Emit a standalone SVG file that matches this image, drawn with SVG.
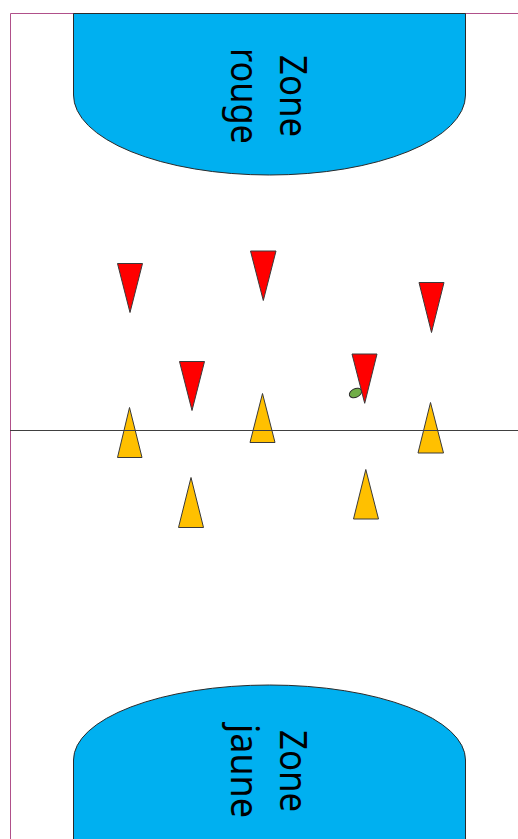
<svg xmlns="http://www.w3.org/2000/svg" width="518" height="839" viewBox="0 0 518 839">
<style>
.zone{fill:#00b0f0;stroke:#2a2a2a;stroke-width:1}
.lbl{font-family:"Noto Sans","Open Sans",sans-serif;font-size:39px;fill:#000;text-anchor:middle}
.red{fill:#ff0000;stroke:#3a3a3a;stroke-width:1}
.yel{fill:#ffc000;stroke:#3a3a3a;stroke-width:1}
.border{fill:none;stroke:#b0508a;stroke-width:1}
</style>
<rect width="518" height="839" fill="#ffffff"/>
<g id="border">
<path class="border" d="M10.5,839 V13.5 H518"/>
</g>
<g id="zone-rouge">
<path class="zone" d="M73.5,13.5 V95 A196,80 0 0 0 465.5,95 V13.5 Z"/>
<g transform="translate(255,96) rotate(90)">
<text class="lbl" x="0" y="-25" textLength="82" lengthAdjust="spacingAndGlyphs">Zone</text>
<text class="lbl" x="0" y="24" textLength="96" lengthAdjust="spacingAndGlyphs">rouge</text>
</g>
</g>
<g id="zone-jaune">
<path class="zone" d="M73.5,840 V760 A196,75 0 0 1 465.5,760 V840 Z"/>
<g transform="translate(255,771) rotate(90)">
<text class="lbl" x="0" y="-25" textLength="82" lengthAdjust="spacingAndGlyphs">Zone</text>
<text class="lbl" x="0" y="24" textLength="94" lengthAdjust="spacingAndGlyphs">jaune</text>
</g>
</g>
<g id="ball">
<ellipse cx="355.5" cy="393" rx="6.5" ry="4.3" transform="rotate(-25 355.5 393)" fill="#70ad47" stroke="#2a2a2a" stroke-width="1"/>
</g>
<g id="rouges">
<polygon class="red" points="117.5,263.5 142.5,263.5 130,312.5"/>
<polygon class="red" points="250.5,251 276,251 263.3,300.5"/>
<polygon class="red" points="179.5,361.5 204.5,361.5 192,410.5"/>
<polygon class="red" points="419,282.5 444,282.5 431.5,332.5"/>
<polygon class="red" points="352,354 377,354 364.7,403.3"/>
</g>
<g id="jaunes">
<polygon class="yel" points="117.5,457.5 142,457.5 129.5,407.5"/>
<polygon class="yel" points="250,442.5 275,442.5 262.5,393.5"/>
<polygon class="yel" points="178.5,527.5 203.5,527.5 191,477.5"/>
<polygon class="yel" points="418,453 443.5,453 430.5,402.5"/>
<polygon class="yel" points="353.5,519 378.5,519 365.8,469.5"/>
</g>
<g id="connectors">
<line x1="10" y1="430.5" x2="518" y2="430.5" stroke="#404040" stroke-width="1"/>
</g>
</svg>
